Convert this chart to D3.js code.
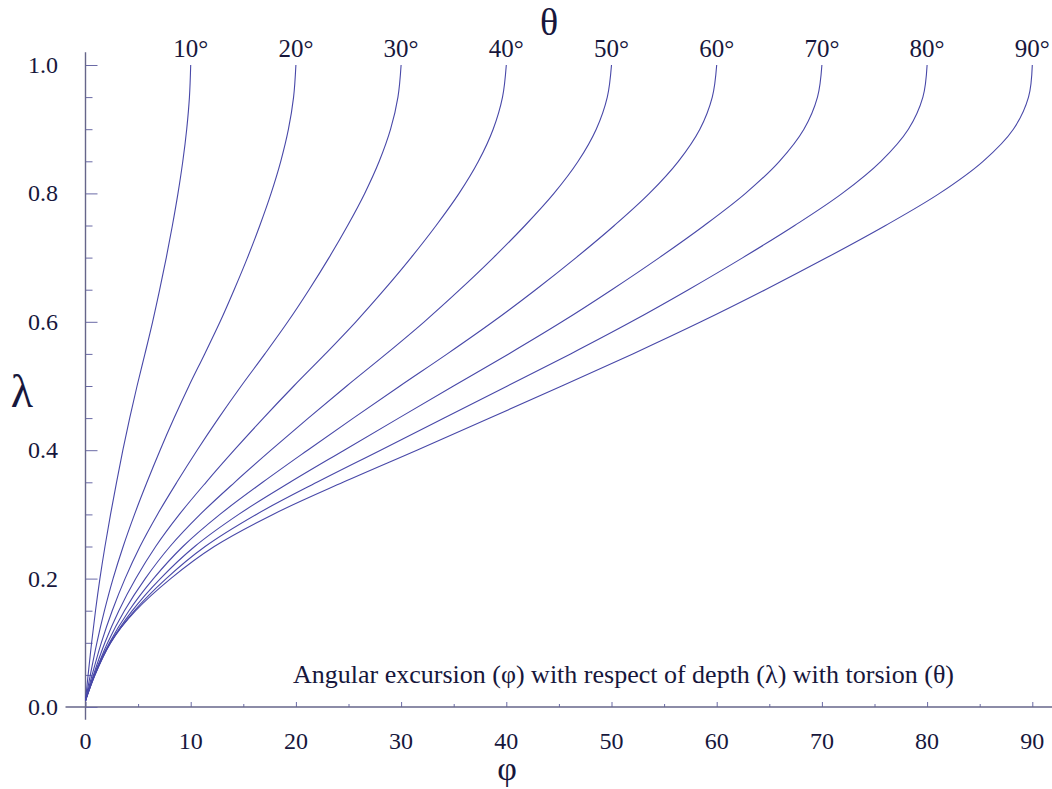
<!DOCTYPE html>
<meta charset="utf-8">
<head>
	<script src="https://d3js.org/d3.v7.min.js"></script>
	<style>
		body { margin: 0; background: #fff; }
		.curve { fill: none; stroke: #4848a8; stroke-width: 1.1; }
		.axis-line { stroke: #66668a; stroke-width: 1.4; }
		.tick-line { stroke: #6a6aa6; stroke-width: 1; }
	</style>
</head>
<body>
<div id="D3_Chart"></div>
<script>
	// one family name only, no fallback list
	var SERIF = "'Liberation Serif'";

	// depth levels (lambda) at which the curves were read
	var lambdas = [0.01, 0.05, 0.1, 0.15, 0.2, 0.25, 0.3, 0.35, 0.4, 0.45, 0.5, 0.55, 0.6, 0.65, 0.7, 0.75, 0.8, 0.85, 0.9, 0.95, 1.0];

	// torsion values, one curve each
	var thetas = [10, 20, 30, 40, 50, 60, 70, 80, 90];

	// angular excursion phi for each curve at the lambda levels above
	var phi10 = [0, 0.25, 0.58, 0.95, 1.37, 1.85, 2.38, 2.95, 3.55, 4.2, 4.9, 5.65, 6.38, 7.05, 7.68, 8.26, 8.79, 9.25, 9.62, 9.88, 10];
	var phi20 = [0, 0.46, 1.08, 1.80, 2.62, 3.58, 4.66, 5.84, 7.09, 8.42, 9.83, 11.33, 12.79, 14.13, 15.4, 16.57, 17.64, 18.56, 19.29, 19.78, 20];
	var phi30 = [0, 0.63, 1.5, 2.54, 3.76, 5.18, 6.84, 8.68, 10.61, 12.65, 14.8, 17.05, 19.23, 21.25, 23.15, 24.92, 26.54, 27.92, 29.0, 29.7, 30];
	var phi40 = [0, 0.76, 1.84, 3.17, 4.78, 6.67, 8.92, 11.46, 14.13, 16.91, 19.8, 22.8, 25.7, 28.4, 30.95, 33.33, 35.51, 37.35, 38.75, 39.64, 40];
	var phi50 = [0, 0.85, 2.1, 3.7, 5.68, 8.03, 10.9, 14.18, 17.63, 21.18, 24.83, 28.58, 32.2, 35.58, 38.78, 41.78, 44.53, 46.83, 48.55, 49.6, 50];
	var phi60 = [0, 0.9, 2.28, 4.13, 6.46, 9.26, 12.78, 16.84, 21.11, 25.46, 29.89, 34.39, 38.73, 42.79, 46.64, 50.27, 53.6, 56.36, 58.4, 59.58, 60];
	var phi70 = [0, 0.91, 2.38, 4.45, 7.12, 10.38, 14.56, 19.44, 24.59, 29.77, 34.98, 40.23, 45.29, 50.03, 54.55, 58.82, 62.74, 65.96, 68.29, 69.58, 70];
	var phi80 = [0, 0.88, 2.4, 4.66, 7.67, 11.37, 16.24, 21.99, 28.05, 34.09, 40.11, 46.11, 51.88, 57.31, 62.49, 67.41, 71.93, 75.61, 78.22, 79.6, 80];
	var phi90 = [0, 0.81, 2.34, 4.77, 8.1, 12.24, 17.82, 24.48, 31.5, 38.43, 45.27, 52.02, 58.5, 64.62, 70.47, 76.05, 81.18, 85.32, 88.2, 89.64, 90];

	var xTicks = [0, 10, 20, 30, 40, 50, 60, 70, 80, 90];
	var yTicks = [0.0, 0.2, 0.4, 0.6, 0.8, 1.0];

	var series = [phi10, phi20, phi30, phi40, phi50, phi60, phi70, phi80, phi90];

	var width = 1052;
	var height = 789;

	var svg = d3.select("#D3_Chart")
		.append("svg")
		.attr("width", width)
		.attr("height", height);

	var xscale = d3.scaleLinear().domain([0, 90]).range([85.5, 1032.3]);
	var yscale = d3.scaleLinear().domain([0, 1]).range([707, 65]);

	// all texts share the same look
	function label(x, y, size, str, anchor) {
		return svg.append("text")
			.attr("x", x).attr("y", y)
			.attr("text-anchor", anchor || "middle")
			.style("font-family", SERIF)
			.style("font-size", size + "px")
			.style("fill", "#17173c")
			.text(str);
	}

	// ---- axes ----
	var xaxis = d3.axisBottom(xscale)
		.tickValues(d3.range(0, 91, 5))
		.tickSizeOuter(0)
		.tickFormat("");
	var gx = svg.append("g").attr("transform", "translate(0," + yscale(0) + ")").call(xaxis);
	gx.select(".domain").remove();
	gx.selectAll(".tick line").attr("class", "tick-line")
		.attr("y2", function (d) { return d % 10 === 0 ? -5 : -3; });
	gx.append("line").attr("class", "axis-line")
		.attr("x1", xscale(-1.9)).attr("x2", width).attr("y1", 0).attr("y2", 0);

	var yaxis = d3.axisLeft(yscale)
		.tickValues(d3.range(0, 21).map(function (i) { return i / 20; }))
		.tickSizeOuter(0)
		.tickFormat("");
	var gy = svg.append("g").attr("transform", "translate(" + xscale(0) + ",0)").call(yaxis);
	gy.select(".domain").remove();
	gy.selectAll(".tick line").attr("class", "tick-line")
		.attr("x2", function (d, i) { return i % 4 === 0 ? 12 : 7; });
	gy.append("line").attr("class", "axis-line")
		.attr("x1", 0).attr("x2", 0).attr("y1", yscale(1.02)).attr("y2", yscale(-0.02));

	// tick labels
	xTicks.forEach(function (d) { label(xscale(d), 749, 24, d); });
	yTicks.forEach(function (d) { label(58, yscale(d) + 8, 24, d.toFixed(1), "end"); });

	// ---- curves ----
	var line = d3.line()
		.x(function (d) { return xscale(d[0]); })
		.y(function (d) { return yscale(d[1]); })
		.curve(d3.curveCatmullRom.alpha(0.5));

	series.forEach(function (phis) {
		var pts = phis.map(function (p, i) { return [p, lambdas[i]]; });
		svg.append("path").attr("class", "curve").attr("d", line(pts));
	});

	// theta labels above each curve
	thetas.forEach(function (d) { label(xscale(d), 57, 25, d + "\u00b0"); });

	// axis titles
	label(549, 35, 38, "\u03b8");
	label(22, 407, 46, "\u03bb");
	label(507, 780, 34, "\u03c6");

	// caption
	label(293, 683, 26, "Angular excursion (\u03c6) with respect of depth (\u03bb) with torsion (\u03b8)", "start");
</script>
</body>
